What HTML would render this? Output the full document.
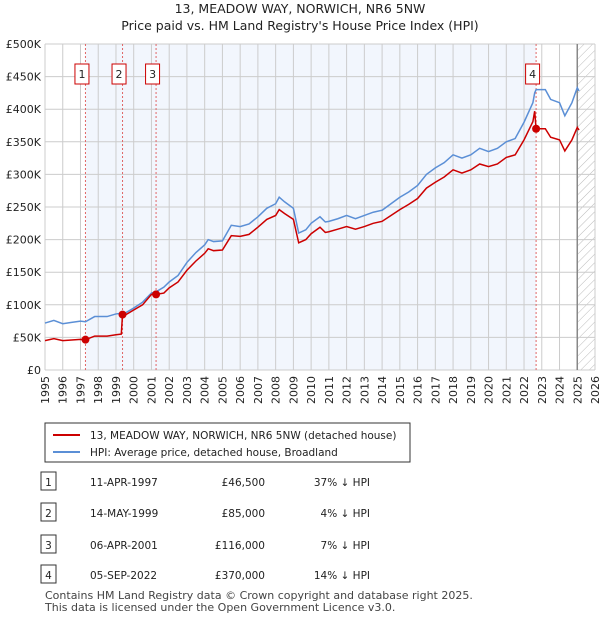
<!DOCTYPE html>
<html><head><meta charset="utf-8"><style>
body{margin:0;background:#fff;font-family:"Liberation Sans","DejaVu Sans",sans-serif;}
svg text{font-family:"DejaVu Sans","Liberation Sans",sans-serif;}
</style></head><body>
<svg width="600" height="620" viewBox="0 0 600 620" xmlns="http://www.w3.org/2000/svg">
<defs><pattern id="hatch" width="6" height="6" patternUnits="userSpaceOnUse" patternTransform="rotate(45)"><line x1="0" y1="0" x2="0" y2="6" stroke="#bbb" stroke-width="1"/></pattern></defs>
<text x="300" y="13" text-anchor="middle" font-size="12.5" fill="#222">13, MEADOW WAY, NORWICH, NR6 5NW</text>
<text x="300" y="30" text-anchor="middle" font-size="12.5" fill="#222">Price paid vs. HM Land Registry's House Price Index (HPI)</text>
<g id="plot"></g>
<g>
<rect x="45" y="423" width="365" height="39" fill="#fff" stroke="#333"/>
<line x1="53" y1="435" x2="80" y2="435" stroke="#cc0000" stroke-width="2"/>
<text x="90" y="439" font-size="10.5" fill="#222">13, MEADOW WAY, NORWICH, NR6 5NW (detached house)</text>
<line x1="53" y1="452" x2="80" y2="452" stroke="#5b8fd6" stroke-width="2"/>
<text x="90" y="456" font-size="10.5" fill="#222">HPI: Average price, detached house, Broadland</text>
</g>
<g id="table"></g>
<text x="45" y="599" font-size="11" fill="#444">Contains HM Land Registry data © Crown copyright and database right 2025.</text>
<text x="45" y="611" font-size="11" fill="#444">This data is licensed under the Open Government Licence v3.0.</text>
</svg>
<script>
const hpiDates=[1995.0,1995.5,1996.0,1996.5,1997.0,1997.28,1997.8,1998.5,1999.0,1999.3,1999.37,1999.5,2000.0,2000.5,2001.0,2001.26,2001.7,2002.0,2002.5,2003.0,2003.5,2004.0,2004.2,2004.5,2005.0,2005.5,2006.0,2006.5,2007.0,2007.5,2008.0,2008.2,2008.5,2009.0,2009.3,2009.7,2010.0,2010.5,2010.8,2011.0,2011.5,2012.0,2012.5,2013.0,2013.5,2014.0,2014.5,2015.0,2015.5,2016.0,2016.5,2017.0,2017.5,2018.0,2018.5,2019.0,2019.5,2020.0,2020.5,2021.0,2021.5,2022.0,2022.5,2022.6,2022.68,2023.2,2023.5,2024.0,2024.3,2024.7,2025.0,2025.1];
const hpiValues=[72,76,71,73,75,74,82,82,86,87,88,87,95,104,118,120,127,135,145,165,180,192,200,197,198,222,220,224,235,248,255,265,258,248,210,215,225,235,227,228,232,237,232,237,242,245,255,265,273,283,300,310,318,330,325,330,340,335,340,350,355,380,410,425,430,430,415,410,390,410,433,428];
const propValues=[45,48,45,46,47,46.5,52,52,54,55,85,84,92,100,116,116,118,126,135,153,167,179,186,183,184,206,205,208,219,231,237,246,240,231,195,200,209,219,211,212,216,220,216,220,225,228,237,246,254,263,279,288,296,307,302,307,316,312,316,326,330,353,381,397,370,370,357,353,336,353,372,368];
const saleLabels=["1","2","3","4"];
const saleDates=[1997.28,1999.37,2001.26,2022.68];
const salePrices=[46.5,85,116,370];
const saleDateText=["11-APR-1997","14-MAY-1999","06-APR-2001","05-SEP-2022"];
const salePriceText=["£46,500","£85,000","£116,000","£370,000"];
const saleHpiText=["37% ↓ HPI","4% ↓ HPI","7% ↓ HPI","14% ↓ HPI"];
const yTicks=[0,50,100,150,200,250,300,350,400,450,500];
const yTickLabels=["£0","£50K","£100K","£150K","£200K","£250K","£300K","£350K","£400K","£450K","£500K"];
const xYears=[1995,1996,1997,1998,1999,2000,2001,2002,2003,2004,2005,2006,2007,2008,2009,2010,2011,2012,2013,2014,2015,2016,2017,2018,2019,2020,2021,2022,2023,2024,2025,2026];
const dataEnd=2025.0;

const X0=45,X1=595,Y0=370,Y1=44;
const xs=y=>X0+(y-1995)/(2026-1995)*(X1-X0);
const ys=v=>Y0-v/500*(Y0-Y1);
const NS="http://www.w3.org/2000/svg";
const plot=document.getElementById('plot');
function mk(tag,attrs,parent){const e=document.createElementNS(NS,tag);for(const k in attrs)e.setAttribute(k,attrs[k]);(parent||plot).appendChild(e);return e;}

let r=mk('rect',{x:xs(saleDates[0]),y:Y1,width:xs(saleDates[3])-xs(saleDates[0]),height:Y0-Y1,fill:'#f2f6fd'});


r=mk('rect',{x:xs(dataEnd),y:Y1,width:X1-xs(dataEnd),height:Y0-Y1,fill:'url(#hatch)'});


xYears.forEach(yr=>{const l=mk('line',{x1:xs(yr),x2:xs(yr),y1:Y1,y2:Y0,stroke:'#ccc','stroke-width':1});


const t=mk('text',{x:0,y:0,'font-size':11,fill:'#222','text-anchor':'end',transform:`translate(${xs(yr)+4},${Y0+6}) rotate(-90)`});t.textContent=yr;

});
yTicks.forEach((v,i)=>{const l=mk('line',{x1:X0,x2:X1,y1:ys(v),y2:ys(v),stroke:'#ccc','stroke-width':1});


const t=mk('text',{x:X0-4,y:ys(v)+4,'font-size':11,fill:'#222','text-anchor':'end'});t.textContent=yTickLabels[i];

});
r=mk('line',{x1:xs(dataEnd),x2:xs(dataEnd),y1:Y1,y2:Y0,stroke:'#888','stroke-width':1.5});


saleDates.forEach((d,i)=>{const l=mk('line',{x1:xs(d),x2:xs(d),y1:Y1,y2:Y0,stroke:'#e06666','stroke-width':1,'stroke-dasharray':'2,2'});


const bx=xs(d)-3.5;
const b=mk('rect',{x:bx-7,y:64,width:14,height:20,fill:'#fff',stroke:'#cc0000'});


const t=mk('text',{x:bx,y:78,'font-size':11,fill:'#222','text-anchor':'middle'});t.textContent=saleLabels[i];

});
function line(vals,color,name){const p=mk('polyline',{points:hpiDates.map((d,i)=>xs(d)+','+ys(vals[i])).join(' '),fill:'none',stroke:color,'stroke-width':1.5});

}
line(hpiValues,'#5b8fd6','hpi-line');
line(propValues,'#cc0000','property-line');
saleDates.forEach((d,i)=>{const c=mk('circle',{cx:xs(d),cy:ys(salePrices[i]),r:4,fill:'#cc0000'});

});
const tb=document.getElementById('table');
const rowY=[483,514,546,576];
saleLabels.forEach((s,i)=>{const y=rowY[i];
const b=mk('rect',{x:41,y:y-11,width:15,height:18,fill:'#fff',stroke:'#333'},tb);


[[s,48.5,'middle'],[saleDateText[i],90,'start'],[salePriceText[i],265,'end'],[saleHpiText[i],370,'end']].forEach(([txt,x,a])=>{
const t=mk('text',{x:x,y:y+3,'font-size':10.5,fill:'#222','text-anchor':a},tb);t.textContent=txt;

});});
</script>
</body></html>
